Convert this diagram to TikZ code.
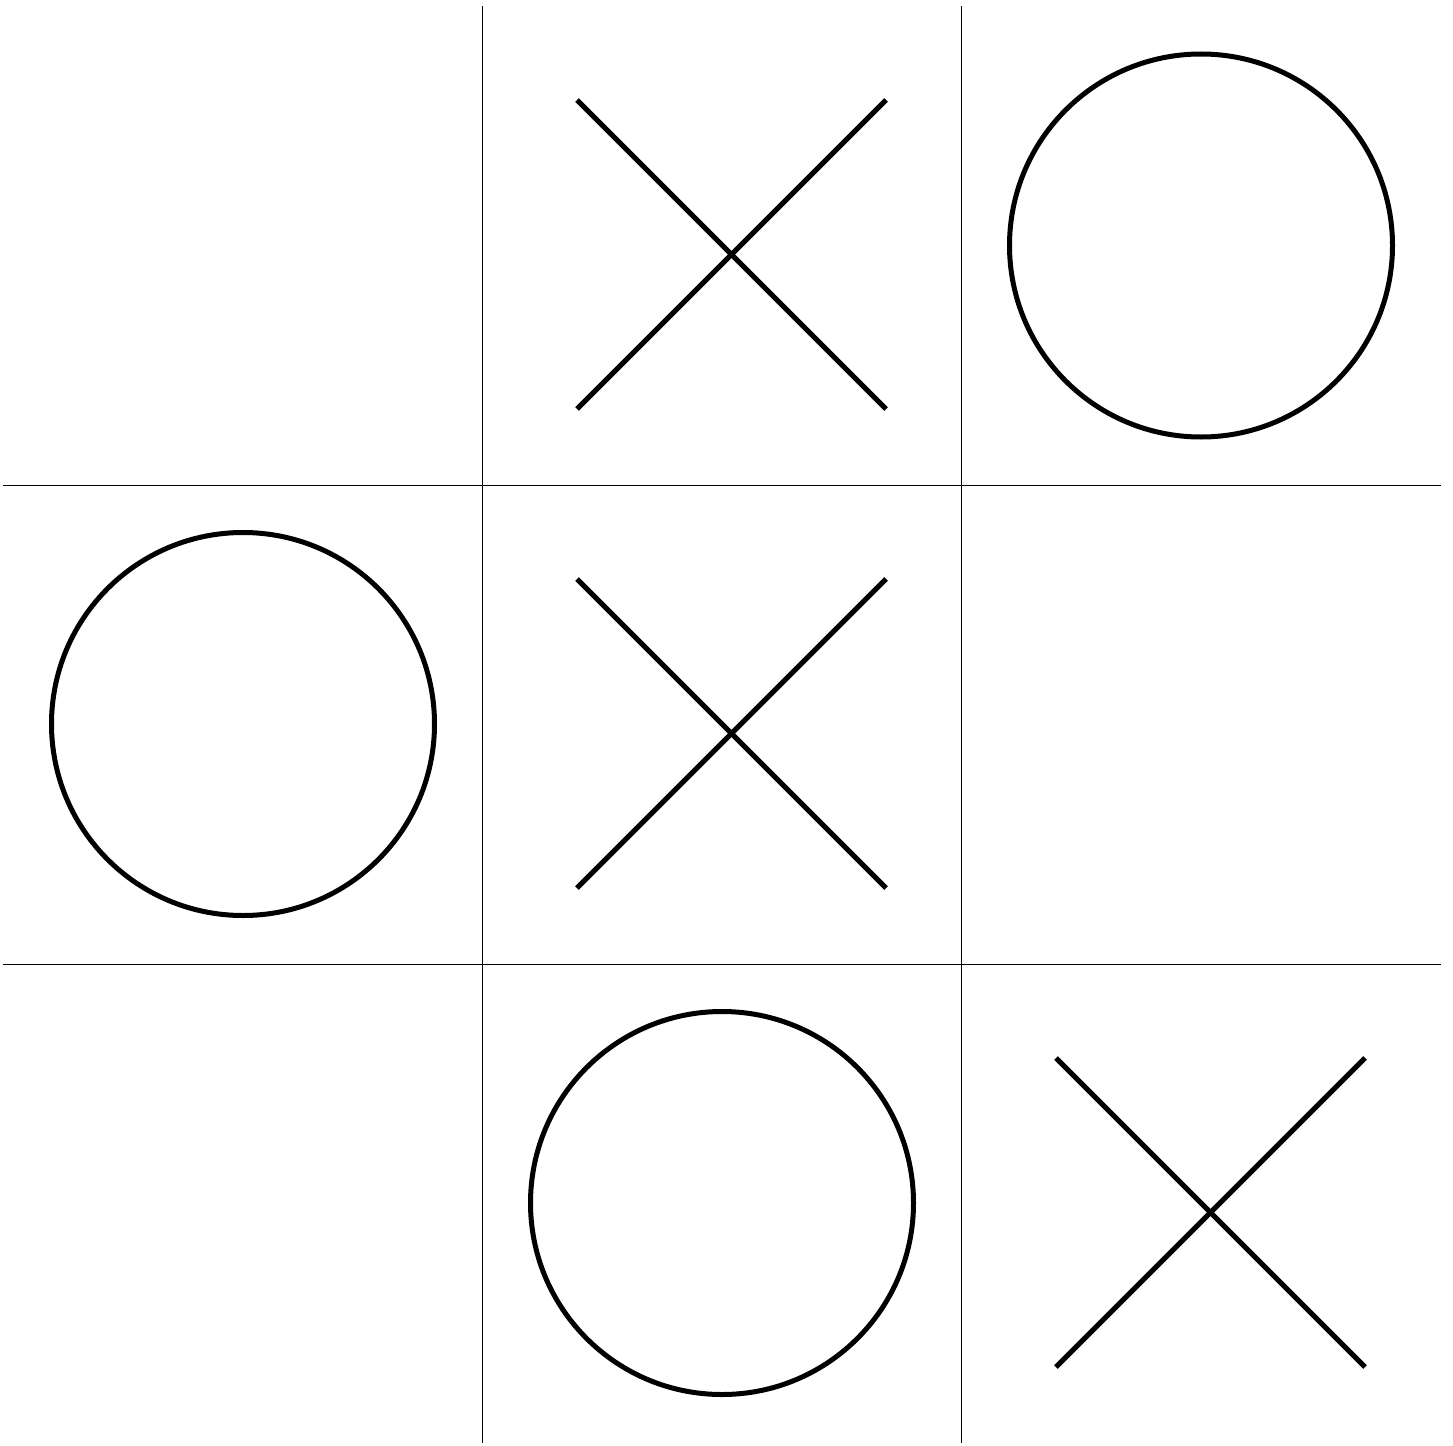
\documentclass[tikz,border=0pt]{standalone}
\begin{document}
\begin{tikzpicture}[x=1pt,y=-1pt,
  gridline/.style={line width=1.5pt,black},
  mark/.style={},
  xmark/.style={line width=5pt,black},
  omark/.style={line width=5pt,black}]
\useasboundingbox (0,0) rectangle (1453,1445);
% grid
\coordinate (v1t) at (482.5,6);   \coordinate (v1b) at (482.5,1443);
\coordinate (v2t) at (961.5,6);   \coordinate (v2b) at (961.5,1443);
\coordinate (h1l) at (3,485.5);   \coordinate (h1r) at (1441,485.5);
\coordinate (h2l) at (3,964.5);   \coordinate (h2r) at (1441,964.5);
\draw[gridline] (v1t) -- (v1b);
\draw[gridline] (v2t) -- (v2b);
\draw[gridline] (h1l) -- (h1r);
\draw[gridline] (h2l) -- (h2r);
% X marks
\coordinate (xa1) at (577,100);  \coordinate (xa2) at (886,409);
\coordinate (xa3) at (577,409);  \coordinate (xa4) at (886,100);
\draw[xmark] (xa1) -- (xa2); \draw[xmark] (xa3) -- (xa4);
\coordinate (xb1) at (577,579);  \coordinate (xb2) at (886,888);
\coordinate (xb3) at (577,888);  \coordinate (xb4) at (886,579);
\draw[xmark] (xb1) -- (xb2); \draw[xmark] (xb3) -- (xb4);
\coordinate (xc1) at (1056,1058); \coordinate (xc2) at (1365,1367);
\coordinate (xc3) at (1056,1367); \coordinate (xc4) at (1365,1058);
\draw[xmark] (xc1) -- (xc2); \draw[xmark] (xc3) -- (xc4);
% O marks
\coordinate (oa) at (1201,245.5);
\coordinate (ob) at (243,724);
\coordinate (oc) at (722,1203);
\draw[omark] (oa) circle[radius=191.5];
\draw[omark] (ob) circle[radius=191.5];
\draw[omark] (oc) circle[radius=191.5];
\end{tikzpicture}
\end{document}
